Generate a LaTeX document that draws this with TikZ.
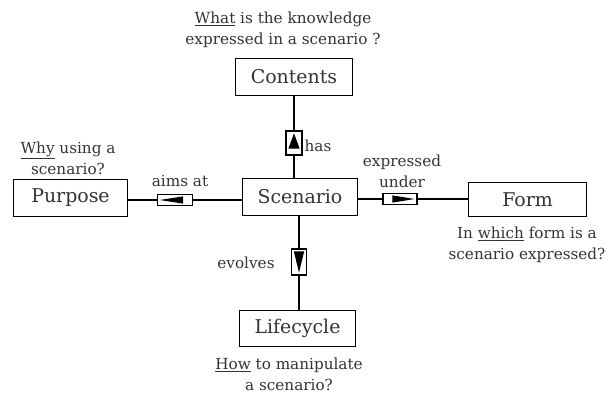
\documentclass[tikz,border=0pt]{standalone}
\usepackage{fontspec}
\setmainfont{DejaVu Serif}
\usetikzlibrary{calc}
% centred lines of lettering, one or more
\newcommand\lines[1]{\begin{tabular}{@{}c@{}}#1\end{tabular}}
\begin{document}
\begin{tikzpicture}[x=1bp,y=-1bp,
  concept/.style={draw=black, line width=1.7bp, rectangle, inner sep=0pt,
    font=\fontsize{19}{23}\selectfont, text=black!80},
  note/.style={inner sep=0pt, text=black!80,
    font=\fontsize{15.3}{21}\selectfont},
  link/.style={draw=black, line width=1.3bp},
  marker/.style={draw=black, line width=1.3bp, rectangle, inner sep=0pt, fill=white},
  wedge/.style={fill=black}
]
\useasboundingbox (0,0) rectangle (610,394);

% concept boxes
\node[concept, minimum width=117bp, minimum height=37bp] (contents) at (294,77) {Contents};
\node[concept, minimum width=115bp, minimum height=37bp] (scenario) at (300,197) {Scenario};
\node[concept, minimum width=114bp, minimum height=37bp] (purpose) at (70.5,198) {Purpose};
\node[concept, minimum width=118bp, minimum height=34bp] (form) at (527.5,199.5) {Form};
\node[concept, minimum width=116bp, minimum height=36bp] (lifecycle) at (297.5,328.5) {Lifecycle};

% relation markers
\node[marker, minimum width=16bp, minimum height=24bp] (hasm) at (294,143) {};
\node[marker, minimum width=35bp, minimum height=11bp] (aimsm) at (175,200) {};
\node[marker, minimum width=34bp, minimum height=11bp] (exprm) at (400,199) {};
\node[marker, minimum width=15bp, minimum height=26bp] (evolm) at (299,262) {};

% direction wedges inside the markers
\fill[wedge] ($(hasm.north)+(0,3)$) -- ($(hasm.south west)+(3,-7)$) -- ($(hasm.south east)+(-3,-7)$) -- cycle;
\fill[wedge] ($(aimsm.west)+(3,0)$) -- ($(aimsm.north east)+(-10,2.5)$) -- ($(aimsm.south east)+(-10,-2.5)$) -- cycle;
\fill[wedge] ($(exprm.east)+(-3,0)$) -- ($(exprm.north west)+(10,2.5)$) -- ($(exprm.south west)+(10,-2.5)$) -- cycle;
\fill[wedge] ($(evolm.south)+(0,-3)$) -- ($(evolm.north west)+(3,3)$) -- ($(evolm.north east)+(-3,3)$) -- cycle;

% connectors
\draw[link] (contents.south) -- (hasm.north);
\draw[link] (hasm.south) -- (hasm.south |- scenario.north);
\draw[link] (purpose.east |- aimsm) -- (aimsm.west);
\draw[link] (aimsm.east) -- (aimsm.east -| scenario.west);
\draw[link] (scenario.east |- exprm) -- (exprm.west);
\draw[link] (exprm.east) -- (exprm.east -| form.west);
\draw[link] (evolm.north |- scenario.south) -- (evolm.north);
\draw[link] (evolm.south) -- (evolm.south |- lifecycle.north);

% relation labels
\node[note] (has) at (318,146) {has};
\node[note] (aims) at (180,181) {aims at};
\node[note] (expr) at (402,173) {\lines{expressed\\under}};
\node[note] (evol) at (246,263) {evolves};

% questions
\node[note] (qcontents) at (283,30) {\lines{\underline{What} is the knowledge\\expressed in a scenario ?}};
\node[note] (qpurpose) at (68,160) {\lines{\underline{Why} using a\\scenario?}};
\node[note] (qform) at (527,245) {\lines{In \underline{which} form is a\\scenario expressed?}};
\node[note] (qlife) at (289,376) {\lines{\underline{How} to manipulate\\a scenario?}};
\end{tikzpicture}
\end{document}
